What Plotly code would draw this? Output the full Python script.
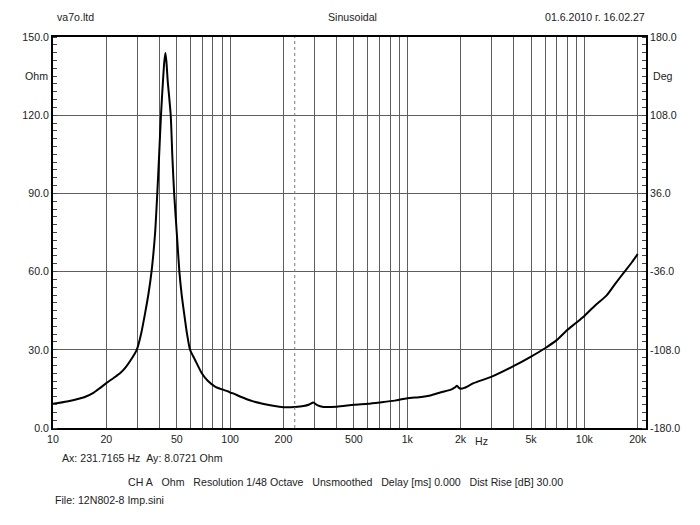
import plotly.graph_objects as go

# impedance curve (Hz, Ohm)
freq_hz = [10, 12, 15, 17, 18.4, 20, 22, 23.9, 25.7, 27.5, 29.7, 31.4, 33.1, 34.6, 36.0, 37.7,
           38.8, 39.7, 40.7, 41.8, 42.5, 43.1, 43.7, 44.4, 46.2, 47.2, 48.3, 50.0, 51.7,
           53.3, 55.0, 57.0, 59.4, 63.4, 69.2, 75, 82.2, 90, 97.8, 100, 104, 113.7, 135,
           155, 175, 200, 232, 260, 280, 295, 310, 336, 400, 500, 600, 700, 850, 1000,
           1200, 1350, 1550, 1750, 1850, 1910, 1960, 2000, 2100, 2370, 3000, 4000, 5000,
           6000, 7000, 8000, 9000, 10000, 11500, 13400, 15000, 16700, 18500, 20000]
impedance_ohm = [9.3, 10.2, 11.8, 13.6, 15.3, 17.2, 19.2, 21.0, 23.3, 26.1, 30.0, 36.0, 44.0, 51.5, 60.0, 74.7,
                 90, 104, 120, 133.4, 140.5, 143.9, 140.5, 133.4, 120, 104, 90, 74.7, 60,
                 51.0, 44.0, 36.5, 30.0, 26.1, 21.0, 18.0, 15.9, 14.8, 14.0, 13.6, 13.3, 12.1, 10.2,
                 9.2, 8.5, 8.0, 8.07, 8.4, 9.0, 9.8, 8.8, 8.1, 8.2, 8.9, 9.3, 9.8, 10.5, 11.4,
                 11.9, 12.5, 13.7, 14.6, 15.5, 16.2, 15.4, 15.1, 15.4, 17.2, 19.7, 23.8, 27.4,
                 30.6, 33.8, 37.6, 40.4, 43.0, 47, 51.0, 55.5, 59.6, 63.5, 66.7]

cursor_hz = 231.7165

grid_hz = [10, 20, 30, 40, 50, 60, 70, 80, 90, 100, 200, 300, 400, 500, 600, 700, 800, 900,
           1000, 2000, 3000, 4000, 5000, 6000, 7000, 8000, 9000, 10000, 20000]
labels_hz = {10: "10", 20: "20", 50: "50", 100: "100", 200: "200", 500: "500",
             1000: "1k", 2000: "2k", 5000: "5k", 10000: "10k", 20000: "20k"}

ohm_ticks = [0, 30, 60, 90, 120, 150]
deg_ticks = [-180, -108, -36, 36, 108, 180]

FONT = "Liberation Sans, Arial, sans-serif"
FS = 10.6
TXT = "#222222"
GRID = "#5e5e5e"

fig = go.Figure()

fig.add_trace(go.Scatter(
    x=freq_hz, y=impedance_ohm, mode="lines",
    line=dict(color="black", width=2, shape="spline", smoothing=0.6),
    hoverinfo="skip", showlegend=False))

# cursor
fig.add_trace(go.Scatter(
    x=[cursor_hz, cursor_hz], y=[ohm_ticks[0], ohm_ticks[-1]], mode="lines",
    line=dict(color="#777777", width=1, dash="dot"), hoverinfo="skip", showlegend=False))

# empty trace so the phase axis is drawn
fig.add_trace(go.Scatter(x=[], y=[], yaxis="y2", showlegend=False, hoverinfo="skip"))

# page body has an 8px margin, so the figure is a bit smaller than the window
fig.update_layout(
    width=692, height=517,
    margin=dict(l=45, r=54, t=29, b=97),
    paper_bgcolor="white", plot_bgcolor="white",
    font=dict(family=FONT, size=FS, color=TXT),
    xaxis=dict(
        type="log", range=[1, 4.348], automargin=False,
        tickvals=grid_hz, ticktext=[labels_hz.get(v, "") for v in grid_hz],
        showgrid=True, gridcolor=GRID, gridwidth=1,
        showline=True, linecolor="black", linewidth=2, mirror=True,
        ticks="", zeroline=False, tickfont=dict(size=FS, color=TXT),
    ),
    yaxis=dict(
        range=[0, 150], automargin=False,
        tickvals=ohm_ticks, ticktext=[f"{v:.1f}" for v in ohm_ticks],
        showgrid=True, gridcolor=GRID, gridwidth=1,
        showline=True, linecolor="black", linewidth=2, mirror=True,
        ticks="", zeroline=False, tickfont=dict(size=FS, color=TXT),
        minor=dict(dtick=3, ticks="inside", ticklen=4, tickcolor="#444444", showgrid=False),
    ),
    yaxis2=dict(
        overlaying="y", side="right", range=[-180, 180], automargin=False,
        tickvals=deg_ticks, ticktext=[f"{v:.1f}" for v in deg_ticks],
        showgrid=False, zeroline=False, showline=False,
        ticks="outside", ticklen=1, tickcolor="black", tickfont=dict(size=FS, color=TXT),
        minor=dict(dtick=7.2, tick0=-180, ticks="inside", ticklen=4, tickcolor="#444444"),
    ),
)

SP2 = "&nbsp;&nbsp;"
SP3 = "&nbsp;&nbsp;&nbsp;"
# positions in window pixels, converted to plot-area fractions
notes = [
    dict(text="va7o.ltd", x=55, y=17, xanchor="left"),
    dict(text="Sinusoidal", x=352, y=17, xanchor="center"),
    dict(text="01.6.2010 г. 16.02.27", x=647, y=17, xanchor="right"),
    dict(text="Ohm", x=50, y=76, xanchor="right"),
    dict(text="Deg", x=651, y=76, xanchor="left"),
    dict(text="Hz", x=481, y=441, xanchor="center"),
    dict(text="Ax: 231.7165 Hz" + SP2 + "Ay: 8.0721 Ohm", x=60, y=458, xanchor="left"),
    dict(text=SP3.join(["CH A", "Ohm", "Resolution 1/48 Octave", "Unsmoothed",
                        "Delay [ms] 0.000", "Dist Rise [dB] 30.00"]),
         x=345, y=482, xanchor="center"),
    dict(text="File: 12N802-8 Imp.sini", x=53, y=500, xanchor="left"),
]
for n in notes:
    fig.add_annotation(
        text=n["text"], xref="paper", yref="paper",
        x=(n["x"] - 53) / 593, y=(428 - n["y"]) / 391,
        xanchor=n["xanchor"], yanchor="middle", showarrow=False,
        font=dict(family=FONT, size=FS, color=TXT))

fig.write_html("out.html")
